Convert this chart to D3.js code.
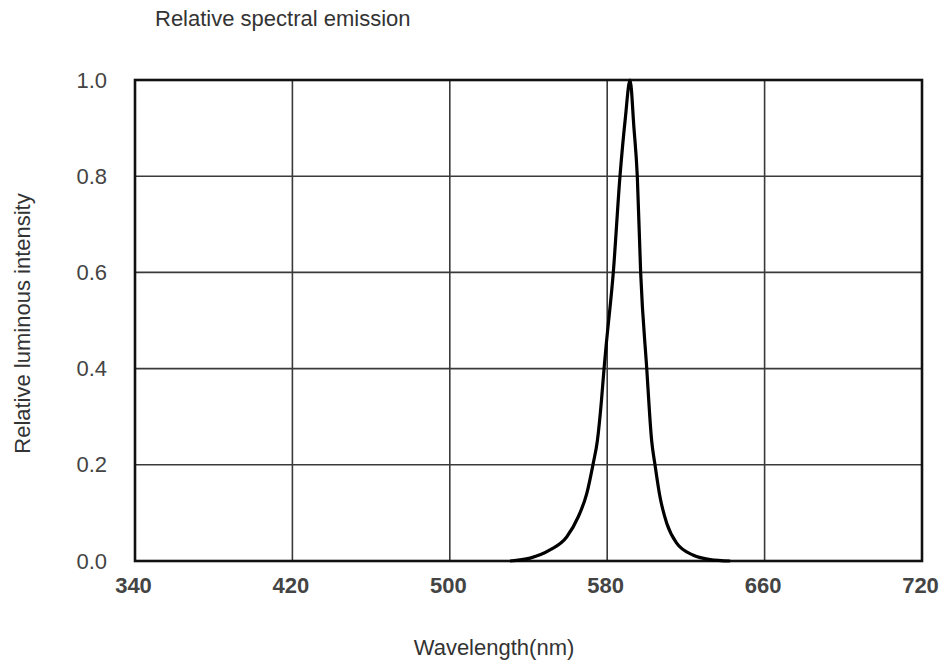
<!DOCTYPE html>
<html>
<head>
<meta charset="utf-8">
<script src="https://cdn.jsdelivr.net/npm/d3@7"></script>
<style>
    body { margin: 0; background: #fff; }
    svg { display: block; font-family: "Liberation Sans", Arial, sans-serif; }
</style>
</head>
<body>
<svg id="chart"></svg>
<script>
// spectrum
const wavelength = [530.6, 540.8, 550.9, 559.4, 565.3, 569.6, 572.9, 575, 577, 578.4, 579.4, 583.1, 586.5, 589.2, 591.6, 593.6, 595.3, 597, 600.1, 602.6, 604.3, 606.8, 610.3, 615.3, 623.8, 632.3, 642.5]
const intensity  = [0, 0.006, 0.023, 0.05, 0.092, 0.14, 0.203, 0.25, 0.33, 0.4, 0.445, 0.6, 0.8, 0.92, 1.0, 0.9, 0.8, 0.6, 0.4, 0.25, 0.2, 0.134, 0.078, 0.037, 0.012, 0.003, 0]

// grid is evenly spaced, last label in the original reads 720
const xTickValues = [340, 420, 500, 580, 660, 740]
const xTickLabels = ['340', '420', '500', '580', '660', '720']
const yTickValues = [0, 0.2, 0.4, 0.6, 0.8, 1.0]

const width = 946
const height = 666
const margin = {top: 80, right: 24, bottom: 105, left: 135}

const svg = d3.select('#chart')
    .attr('width', width)
    .attr('height', height)

const x = d3.scaleLinear()
    .domain([340, 740])
    .range([margin.left, width - margin.right])

const y = d3.scaleLinear()
    .domain([0, 1])
    .range([height - margin.bottom, margin.top])

// grid lines
svg.append('g')
    .attr('stroke', '#3a3a3a')
    .attr('stroke-width', 1.6)
    .selectAll('line')
    .data(xTickValues.slice(1, -1))
    .join('line')
    .attr('x1', d => x(d))
    .attr('x2', d => x(d))
    .attr('y1', y(0))
    .attr('y2', y(1))

svg.append('g')
    .attr('stroke', '#3a3a3a')
    .attr('stroke-width', 1.6)
    .selectAll('line')
    .data(yTickValues.slice(1, -1))
    .join('line')
    .attr('x1', x(340))
    .attr('x2', x(740))
    .attr('y1', d => y(d))
    .attr('y2', d => y(d))

// frame
svg.append('rect')
    .attr('x', x(340))
    .attr('y', y(1))
    .attr('width', x(740) - x(340))
    .attr('height', y(0) - y(1))
    .attr('fill', 'none')
    .attr('stroke', '#111')
    .attr('stroke-width', 2.6)

// axes (labels only)
const xAxis = svg.append('g')
    .attr('transform', `translate(0,${y(0)})`)
    .call(d3.axisBottom(x).tickValues(xTickValues).tickFormat((d, i) => xTickLabels[i]).tickSize(0).tickPadding(16))
xAxis.select('.domain').remove()
xAxis.selectAll('text')
    .attr('fill', '#444')
    .attr('dx', -2)
    .style('font-size', '22px')
    .style('font-weight', 'bold')

const yAxis = svg.append('g')
    .attr('transform', `translate(${x(340)},0)`)
    .call(d3.axisLeft(y).tickValues(yTickValues).tickFormat(d3.format('.1f')).tickSize(0).tickPadding(28))
yAxis.select('.domain').remove()
yAxis.selectAll('text')
    .attr('fill', '#444')
    .style('font-size', '22px')

// curve
const line = d3.line()
    .x((d, i) => x(wavelength[i]))
    .y(d => y(d))
    .curve(d3.curveMonotoneX)

svg.append('path')
    .datum(intensity)
    .attr('d', line)
    .attr('fill', 'none')
    .attr('stroke', '#000')
    .attr('stroke-width', 3.2)
    .attr('stroke-linejoin', 'round')

// titles
svg.append('text')
    .attr('x', 155)
    .attr('y', 26)
    .attr('fill', '#333')
    .style('font-size', '22px')
    .text('Relative spectral emission')

svg.append('text')
    .attr('transform', `translate(30,${(y(0) + y(1)) / 2 + 3}) rotate(-90)`)
    .attr('text-anchor', 'middle')
    .attr('fill', '#333')
    .style('font-size', '22px')
    .text('Relative luminous intensity')

svg.append('text')
    .attr('x', 494)
    .attr('y', 655)
    .attr('text-anchor', 'middle')
    .attr('fill', '#333')
    .style('font-size', '22px')
    .text('Wavelength(nm)')
</script>
</body>
</html>
